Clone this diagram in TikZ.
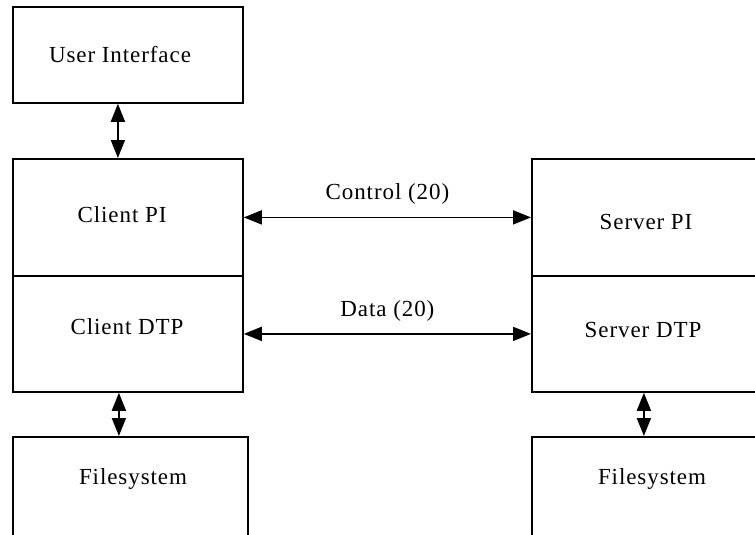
\documentclass[tikz,border=0pt]{standalone}
\usepackage{fontspec}
\setmainfont{Liberation Serif}[LetterSpace=4]
\usetikzlibrary{arrows.meta}
\begin{document}
\begin{tikzpicture}[x=1pt,y=1pt,
  box/.style={draw,line width=1.8pt,rectangle,inner sep=0pt,anchor=north west},
  txt/.style={font=\fontsize{23}{26}\selectfont,inner sep=0pt},
  biarrow/.style={line width=1.8pt,
    {Triangle[length=18pt,width=14pt]}-{Triangle[length=18pt,width=14pt]}}
]
\useasboundingbox (0,0) rectangle (755,-535);
\begin{scope}
\clip (0,0) rectangle (755,-535);
% boxes
\node[box,minimum width=230pt,minimum height=96pt] (ui) at (12,-6) {};
\node[box,minimum width=230pt,minimum height=117pt] (cpi) at (12,-158) {};
\node[box,minimum width=230pt,minimum height=116pt] (cdtp) at (12,-275) {};
\node[box,minimum width=230pt,minimum height=117pt] (spi) at (531,-158) {};
\node[box,minimum width=230pt,minimum height=116pt] (sdtp) at (531,-275) {};
\node[box,minimum width=235pt,minimum height=110pt] (fsl) at (12,-436) {};
\node[box,minimum width=235pt,minimum height=110pt] (fsr) at (531,-436) {};
% texts
\node[txt] (uit) at (120,-55) {User Interface};
\node[txt] (cpit) at (122,-215) {Client PI};
\node[txt] (cdtpt) at (127,-327) {Client DTP};
\node[txt] (spit) at (646,-222) {Server PI};
\node[txt] (sdtpt) at (643,-330) {Server DTP};
\node[txt] (fslt) at (133,-479) {Filesystem};
\node[txt] (fsrt) at (652,-479) {Filesystem};
% connectors
\draw[biarrow] ([xshift=-10pt]ui.south) -- ([xshift=-10pt]cpi.north);
\draw[biarrow] ([xshift=-9pt]cdtp.south) -- ([xshift=-9pt]cdtp.south |- fsl.north);
\draw[biarrow] ([xshift=-3pt]sdtp.south) -- ([xshift=-3pt]sdtp.south |- fsr.north);
\draw[biarrow] (cpi.east) -- (cpi.east -| spi.west) node[txt,midway,above=12pt] (ctl) {Control (20)};
\draw[biarrow] (cdtp.east) -- (cdtp.east -| sdtp.west) node[txt,midway,above=12pt] (dat) {Data (20)};
\end{scope}
\end{tikzpicture}
\end{document}
